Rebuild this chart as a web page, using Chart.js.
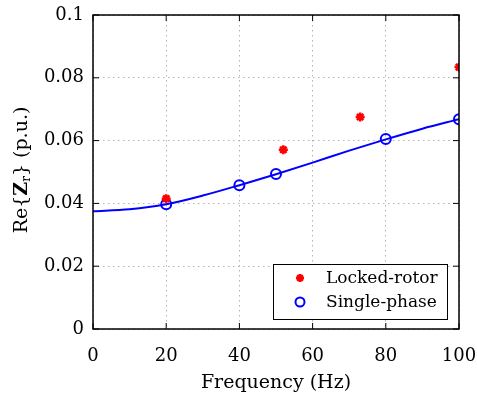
<!DOCTYPE html>
<html>
<head>
<meta charset="utf-8">
<script src="https://cdn.jsdelivr.net/npm/chart.js@4"></script>
<style>
  html, body { margin: 0; padding: 0; background: #fff; }
  #wrap { width: 477px; height: 403px; }
</style>
</head>
<body>
<div id="wrap"><canvas id="chart" width="477" height="403"></canvas></div>
<script>
// values
const lockedFreq = [20, 52, 73, 100];
const lockedRe = [0.0415, 0.0571, 0.0675, 0.0834];
const singleFreq = [20, 40, 50, 80, 100];
const singleRe = [0.0397, 0.0458, 0.0494, 0.0605, 0.0668];
const fitFreq = [0, 10, 20, 30, 40, 50, 60, 70, 80, 90, 100];
const fitRe = [0.0375, 0.0381, 0.0397, 0.0425, 0.0458, 0.0493, 0.0530, 0.0568, 0.0604, 0.0638, 0.0668];
const xTicks = [0, 20, 40, 60, 80, 100];
const yTicks = [0, 0.02, 0.04, 0.06, 0.08, 0.1];

const FONT = "'DejaVu Serif', serif";
const toXY = (xs, ys) => xs.map((x, i) => ({x: x, y: ys[i]}));

// frame, inward ticks, y title and legend
const framePlugin = {
    id: "frame",
    afterDraw(chart) {
        const {ctx, chartArea: a, scales: {x, y}} = chart;
        ctx.save();
        ctx.strokeStyle = "#000";
        ctx.lineWidth = 1.5;
        ctx.strokeRect(a.left, a.top, a.right - a.left, a.bottom - a.top);
        ctx.lineWidth = 1;
        ctx.beginPath();
        xTicks.forEach(v => {
            const px = x.getPixelForValue(v);
            ctx.moveTo(px, a.bottom); ctx.lineTo(px, a.bottom - 6);
            ctx.moveTo(px, a.top); ctx.lineTo(px, a.top + 6);
        });
        yTicks.forEach(v => {
            const py = y.getPixelForValue(v);
            ctx.moveTo(a.left, py); ctx.lineTo(a.left + 6, py);
            ctx.moveTo(a.right, py); ctx.lineTo(a.right - 6, py);
        });
        ctx.stroke();

        // y axis title: Re{Z_r} (p.u.)
        ctx.translate(22, 170);
        ctx.rotate(-Math.PI / 2);
        ctx.fillStyle = "#000";
        ctx.textBaseline = "middle";
        const parts = [
            {t: "Re{", f: "19px " + FONT, dy: 0},
            {t: "Z", f: "bold 19px " + FONT, dy: 0},
            {t: "r", f: "12px " + FONT, dy: 5},
            {t: "} (p.u.)", f: "19px " + FONT, dy: 0}
        ];
        let w = 0;
        parts.forEach(p => { ctx.font = p.f; w += ctx.measureText(p.t).width; });
        let cx = -w / 2;
        parts.forEach(p => {
            ctx.font = p.f;
            ctx.fillText(p.t, cx, p.dy);
            cx += ctx.measureText(p.t).width;
        });
        ctx.restore();

        // legend box
        ctx.save();
        ctx.fillStyle = "#fff";
        ctx.strokeStyle = "#000";
        ctx.lineWidth = 1;
        ctx.fillRect(273, 264, 174, 55);
        ctx.strokeRect(273.5, 264.5, 174, 55);
        ctx.strokeStyle = "#ff0000";
        ctx.lineWidth = 2.5;
        ctx.beginPath();
        for (let k = 0; k < 4; k++) {
            const ang = k * Math.PI / 4;
            ctx.moveTo(300 - 4 * Math.cos(ang), 278 - 4 * Math.sin(ang));
            ctx.lineTo(300 + 4 * Math.cos(ang), 278 + 4 * Math.sin(ang));
        }
        ctx.stroke();
        ctx.strokeStyle = "#0000ff";
        ctx.lineWidth = 2;
        ctx.beginPath();
        ctx.arc(300, 302, 4.5, 0, 2 * Math.PI);
        ctx.stroke();
        ctx.fillStyle = "#000";
        ctx.font = "17px " + FONT;
        ctx.textBaseline = "middle";
        ctx.fillText("Locked-rotor", 326, 279);
        ctx.fillText("Single-phase", 326, 303);
        ctx.restore();
    }
};

new Chart(document.getElementById("chart"), {
    type: "scatter",
    data: {
        datasets: [
            {
                label: "Fit",
                type: "line",
                data: toXY(fitFreq, fitRe),
                borderColor: "#0000ff",
                borderWidth: 2,
                pointRadius: 0,
                cubicInterpolationMode: "monotone",
                fill: false
            },
            {
                label: "Locked-rotor",
                data: toXY(lockedFreq, lockedRe),
                pointStyle: "star",
                pointRadius: 4.5,
                borderColor: "#ff0000",
                backgroundColor: "#ff0000",
                borderWidth: 2.5
            },
            {
                label: "Single-phase",
                data: toXY(singleFreq, singleRe),
                pointStyle: "circle",
                pointRadius: 5,
                borderColor: "#0000ff",
                backgroundColor: "rgba(0,0,0,0)",
                borderWidth: 2
            }
        ]
    },
    options: {
        responsive: false,
        animation: false,
        layout: { padding: { top: 15, right: 18, left: 0, bottom: 0 } },
        plugins: { legend: { display: false }, tooltip: { enabled: false } },
        scales: {
            x: {
                type: "linear",
                min: 0, max: 100,
                afterBuildTicks: s => { s.ticks = xTicks.map(v => ({value: v})); },
                afterFit: s => { s.height = 74; s.paddingLeft = 0; s.paddingRight = 0; },
                grid: { color: "#b4b4b4", drawTicks: false },
                border: { display: false, dash: [1.5, 3.5] },
                ticks: { color: "#000", font: { family: FONT, size: 18 }, padding: 17, maxRotation: 0, callback: v => String(v) },
                title: { display: true, text: "Frequency (Hz)", color: "#000", font: { family: FONT, size: 19 }, padding: { top: 0, bottom: 9 } }
            },
            y: {
                min: 0, max: 0.1,
                afterBuildTicks: s => { s.ticks = yTicks.map(v => ({value: v})); },
                afterFit: s => { s.width = 93; s.paddingTop = 0; s.paddingBottom = 0; },
                grid: { color: "#b4b4b4", drawTicks: false },
                border: { display: false, dash: [1.5, 3.5] },
                ticks: { color: "#000", font: { family: FONT, size: 18 }, padding: 9, callback: v => String(+v.toFixed(2)) }
            }
        }
    },
    plugins: [framePlugin]
});
</script>
</body>
</html>
